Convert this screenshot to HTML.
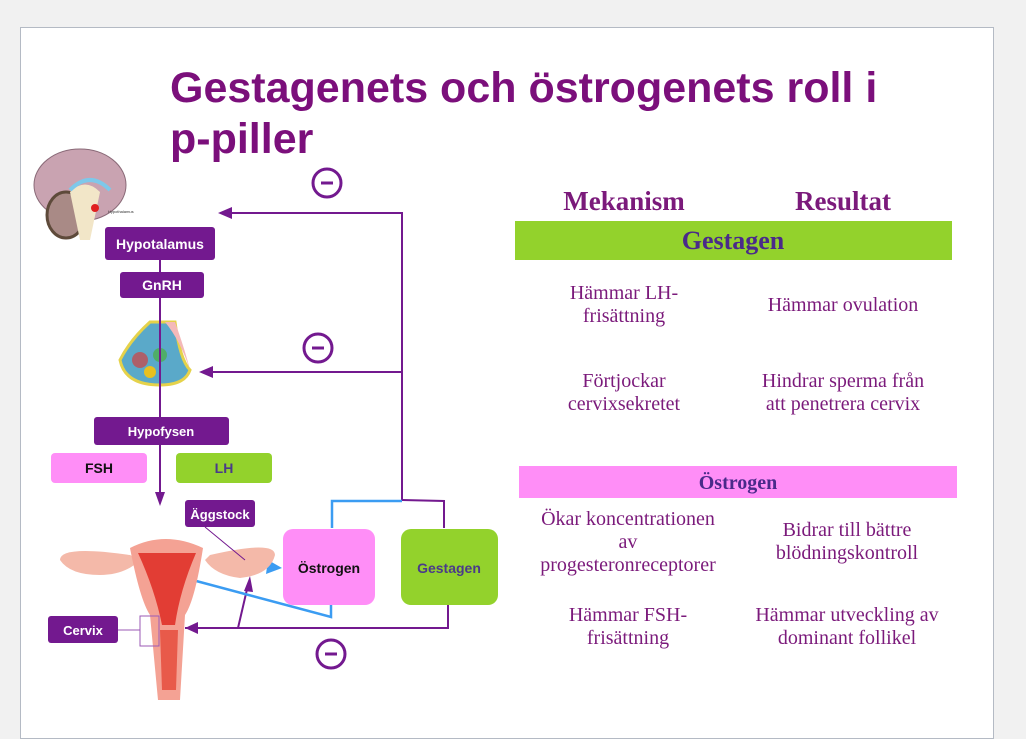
<!DOCTYPE html>
<html><head><meta charset="utf-8"><style>
body{margin:0;background:#f1f1f1;width:1026px;height:728px;overflow:hidden;position:relative;font-family:"Liberation Sans",sans-serif}
.slide{position:absolute;left:20px;top:27px;width:972px;height:710px;background:#fff;border:1px solid #b4bac4}
svg{position:absolute;left:0;top:0}
</style></head><body>
<div class="slide"></div>
<svg width="1026" height="728" viewBox="0 0 1026 728">
<text x="170" y="102" font-family="Liberation Sans" font-weight="bold" font-size="43" fill="#7b0f7b">Gestagenets och östrogenets roll i</text>
<text x="170" y="153" font-family="Liberation Sans" font-weight="bold" font-size="43" fill="#7b0f7b">p-piller</text>
<!-- brain -->
<ellipse cx="80" cy="185" rx="46" ry="36" fill="#c9a3b1" stroke="#8a6a78"/>
<ellipse cx="66" cy="215" rx="19" ry="23" fill="#a98a86" stroke="#5e4a3a" stroke-width="3"/>
<path d="M70 192 Q85 177 100 192 L90 240 L80 240Z" fill="#f2e6c8"/>
<path d="M70 190 Q90 170 110 190" stroke="#7ec8ea" stroke-width="4" fill="none"/>
<circle cx="95" cy="208" r="4" fill="#e02020"/>
<text x="108" y="213" font-size="4" fill="#333">Hypothalamus</text>
<!-- pituitary -->
<path d="M150 322 L175 322 Q180 360 190 370 Q185 385 160 385 Q125 385 120 360 Q130 340 150 322Z" fill="#5aa9c9" stroke="#e5d24a" stroke-width="3"/>
<path d="M165 322 Q180 340 190 370 Q185 350 175 322Z" fill="#f4b9b9"/>
<circle cx="140" cy="360" r="8" fill="#d04040" opacity=".7"/><circle cx="160" cy="355" r="7" fill="#4caf50" opacity=".8"/><circle cx="150" cy="372" r="6" fill="#e8c020"/>
<g stroke="#73198f" stroke-width="2" fill="none">
<line x1="160" y1="258" x2="160" y2="495"/>
<polyline points="232,213 402,213 402,500"/>
<line x1="212" y1="372" x2="402" y2="372"/>
<polyline points="402,500 444,501 444,528"/>
<polyline points="448,600 448,628 185,628"/>
<line x1="238" y1="628" x2="248" y2="585"/>
</g>
<g fill="#73198f">
<polygon points="218,213 232,207 232,219"/>
<polygon points="199,372 213,366 213,378"/>
<polygon points="155,492 165,492 160,506"/>
<polygon points="185,628 198,622 198,634"/>
<polygon points="250,576 244,591 253,592"/>
</g>
<g stroke="#3b9cf2" stroke-width="2.5" fill="none">
<polyline points="332,528 332,501 402,501"/>
<polyline points="331,603 331,617 185,578"/>
<line x1="248" y1="563" x2="270" y2="566"/>
</g>
<polygon points="176,577 192,573 189,585" fill="#3b9cf2"/>
<polygon points="282,568 268,560 266,574" fill="#3b9cf2"/>
<g stroke="#73198f" stroke-width="3" fill="none">
<circle cx="327" cy="183" r="14"/><circle cx="318" cy="348" r="14"/><circle cx="331" cy="654" r="14"/>
</g>
<g stroke="#73198f" stroke-width="3"><line x1="321" y1="183" x2="333" y2="183"/><line x1="312" y1="348" x2="324" y2="348"/><line x1="325" y1="654" x2="337" y2="654"/></g>
<!-- uterus -->
<path d="M130 555 Q60 545 60 560 Q70 575 100 575 Q125 575 140 560Z" fill="#f4b9a9"/>
<path d="M210 555 Q275 540 275 555 Q270 575 240 578 Q215 575 205 560Z" fill="#f4b9a9"/>
<path d="M130 548 Q165 530 203 548 Q195 600 185 615 L180 700 L158 700 L150 615 Q140 600 130 548Z" fill="#f4a294"/>
<path d="M138 553 L196 553 Q180 590 175 625 L162 625 Q155 590 138 553Z" fill="#e23d34"/>
<path d="M160 630 L178 630 L176 690 L162 690Z" fill="#e85a4a"/>
<line x1="205" y1="527" x2="245" y2="560" stroke="#73198f" stroke-width="1"/>
<polyline points="115,630 140,630" stroke="#9b59b6" fill="none"/>
<rect x="140" y="616" width="19" height="30" fill="none" stroke="#9b59b6"/>
<g font-family="Liberation Sans" font-weight="bold" text-anchor="middle">
<rect x="105" y="227" width="110" height="33" rx="3" fill="#73198f"/><text x="160" y="249" font-size="14" fill="#fff">Hypotalamus</text>
<rect x="120" y="272" width="84" height="26" rx="3" fill="#73198f"/><text x="162" y="290" font-size="14" fill="#fff">GnRH</text>
<rect x="94" y="417" width="135" height="28" rx="3" fill="#73198f"/><text x="161" y="436" font-size="13" fill="#fff">Hypofysen</text>
<rect x="51" y="453" width="96" height="30" rx="4" fill="#ff8ef7"/><text x="99" y="473" font-size="14" fill="#111">FSH</text>
<rect x="176" y="453" width="96" height="30" rx="4" fill="#93d22c"/><text x="224" y="473" font-size="14" fill="#4a3a8a">LH</text>
<rect x="185" y="500" width="70" height="27" rx="3" fill="#73198f"/><text x="220" y="519" font-size="13" fill="#fff">Äggstock</text>
<rect x="48" y="616" width="70" height="27" rx="3" fill="#73198f"/><text x="83" y="635" font-size="13" fill="#fff">Cervix</text>
<rect x="283" y="529" width="92" height="76" rx="10" fill="#ff8ef7"/><text x="329" y="573" font-size="14" fill="#111">Östrogen</text>
<rect x="401" y="529" width="97" height="76" rx="10" fill="#93d22c"/><text x="449" y="573" font-size="14" fill="#4a3a8a">Gestagen</text>
</g>
<g font-family="Liberation Serif" text-anchor="middle" fill="#7b1a7b">
<text x="624" y="210" font-size="27" font-weight="bold">Mekanism</text>
<text x="843" y="210" font-size="27" font-weight="bold">Resultat</text>
<rect x="515" y="221" width="437" height="39" fill="#93d22c"/>
<text x="733" y="249" font-size="26" font-weight="bold" fill="#4a2a8a">Gestagen</text>
<g font-size="20">
<text x="624" y="299">Hämmar LH-</text><text x="624" y="322">frisättning</text>
<text x="843" y="311">Hämmar ovulation</text>
<text x="624" y="387">Förtjockar</text><text x="624" y="410">cervixsekretet</text>
<text x="843" y="387">Hindrar sperma från</text><text x="843" y="410">att penetrera cervix</text>
</g>
<rect x="519" y="466" width="438" height="32" fill="#ff8ef7"/>
<text x="738" y="489" font-size="20" font-weight="bold" fill="#4a2a8a">Östrogen</text>
<g font-size="20">
<text x="628" y="525">Ökar koncentrationen</text><text x="628" y="548">av</text><text x="628" y="571">progesteronreceptorer</text>
<text x="847" y="536">Bidrar till bättre</text><text x="847" y="559">blödningskontroll</text>
<text x="628" y="621">Hämmar FSH-</text><text x="628" y="644">frisättning</text>
<text x="847" y="621">Hämmar utveckling av</text><text x="847" y="644">dominant follikel</text>
</g>
</g>
</svg>
</body></html>
